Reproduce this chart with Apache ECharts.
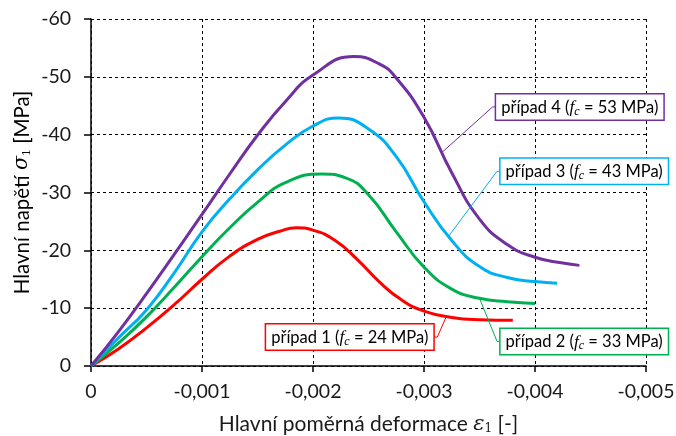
<!DOCTYPE html>
<html>
<head>
<meta charset="utf-8">
<script src="https://cdn.jsdelivr.net/npm/echarts@6/dist/echarts.min.js"></script>
<style>html,body{margin:0;padding:0;background:#fff}#c{width:676px;height:436px}</style>
</head>
<body>
<div id="c"></div>
<script>
// ---- data (strain ε1 [-], stress σ1 [MPa]) ----
const strain1 = [0, -0.00025, -0.0005, -0.00075, -0.001, -0.00125, -0.0015, -0.0017, -0.00185, -0.002, -0.0022, -0.0024, -0.0026, -0.0028, -0.003, -0.00325, -0.0035, -0.0038];
const stress1 = [0, -3.0, -6.6, -10.6, -15.0, -19.0, -21.9, -23.3, -23.9, -23.5, -21.7, -18.4, -14.5, -11.4, -9.5, -8.4, -8.0, -7.9];

const strain2 = [0, -0.00025, -0.0005, -0.00075, -0.001, -0.00125, -0.0015, -0.00175, -0.00208, -0.0023, -0.0025, -0.00275, -0.003, -0.00325, -0.0035, -0.00375, -0.004];
const stress2 = [0, -4.0, -8.5, -13.6, -18.9, -23.9, -28.3, -31.7, -33.2, -32.5, -29.6, -23.2, -17.1, -13.3, -11.7, -11.1, -10.8];

const strain3 = [0, -0.00025, -0.0005, -0.00075, -0.001, -0.00125, -0.0015, -0.00175, -0.002, -0.00223, -0.0025, -0.00275, -0.003, -0.00325, -0.0035, -0.00375, -0.004, -0.0042];
const stress3 = [0, -4.9, -9.7, -16.1, -23.2, -28.9, -33.9, -38.2, -41.5, -42.9, -41.0, -36.2, -28.4, -21.7, -17.2, -15.3, -14.6, -14.3];

const strain4 = [0, -0.00025, -0.0005, -0.00075, -0.001, -0.00125, -0.0015, -0.00175, -0.002, -0.00237, -0.0026, -0.00275, -0.003, -0.00325, -0.0035, -0.00375, -0.004, -0.00425, -0.0044];
const stress4 = [0, -6.0, -12.5, -19.3, -26.2, -33.2, -39.9, -45.7, -50.3, -53.5, -52.2, -49.8, -43.0, -33.4, -25.4, -21.0, -18.8, -17.8, -17.4];

const caseNames = ['případ 1', 'případ 2', 'případ 3', 'případ 4'];
const fcValues = [24, 33, 43, 53];
const colors = ['#FF0000', '#00B050', '#00B0F0', '#7030A0'];

// label leaders: point on curve, elbow, box anchor (data coordinates)
const leaderCurvePts = [[-0.0032, -8.5], [-0.0035, -11.7], [-0.00322, -22.4], [-0.00316, -36.9]];
const leaderElbowPts = [[-0.00312, -5.0], [-0.003658, -4.25], [-0.003658, -33.67], [-0.003618, -44.8]];
const boxAnchorPts   = [[-0.003084, -5.0], [-0.00369, -4.25], [-0.00369, -33.67], [-0.00365, -44.8]];
const boxAlign = ['right', 'left', 'left', 'left'];

const xTicks = { min: -0.005, max: 0, interval: 0.001 };
const yTicks = { min: -60, max: 0, interval: 10 };

const strains = [strain1, strain2, strain3, strain4];
const stresses = [stress1, stress2, stress3, stress4];

const FONT = 'Lato';
const TXT = '#1a1a1a';
const chart = echarts.init(document.getElementById('c'), null, { renderer: 'canvas' });

const gridLine = { show: true, lineStyle: { color: '#000', type: [3, 3], width: 1 } };
const titleRich = (fs) => ({
  e: { fontFamily: 'DejaVu Serif', fontStyle: 'italic', fontSize: fs, color: TXT },
  s: { fontFamily: 'DejaVu Serif', fontSize: Math.round(fs * 0.55), color: TXT, verticalAlign: 'bottom', padding: [9, 0, 0, 0] },
  t: { fontFamily: FONT, fontSize: fs, color: TXT }
});

chart.setOption({
  animation: false,
  backgroundColor: '#fff',
  grid: { left: 91, right: 30, top: 19, bottom: 70, containLabel: false, outerBoundsMode: 'none' },
  xAxis: {
    type: 'value', inverse: true,
    min: xTicks.min, max: xTicks.max, interval: xTicks.interval,
    name: '{t|Hlavní poměrná deformace }{e|ε}{s|1}{t| [-]}',
    nameLocation: 'middle', nameGap: 48,
    nameTextStyle: { fontFamily: FONT, fontSize: 21, color: TXT, rich: titleRich(21) },
    axisLine: { show: true, onZero: false, lineStyle: { color: '#000', width: 1.5 } },
    axisTick: { show: true, length: 6, lineStyle: { color: '#000', width: 1.5 } },
    axisLabel: {
      fontFamily: FONT, fontSize: 19.5, color: TXT, margin: 16,
      formatter: v => (Math.abs(v) < 1e-12 ? '0' : v.toFixed(3).replace('.', ','))
    },
    splitLine: gridLine
  },
  yAxis: {
    type: 'value', inverse: true,
    min: yTicks.min, max: yTicks.max, interval: yTicks.interval,
    axisLine: { show: true, onZero: false, lineStyle: { color: '#000', width: 1.5 } },
    axisTick: { show: true, length: 7, lineStyle: { color: '#000', width: 1.5 } },
    axisLabel: { fontFamily: FONT, fontSize: 19.5, color: TXT, margin: 20, formatter: v => String(v) },
    splitLine: gridLine
  },
  series: strains.map((s, i) => ({
    type: 'line',
    name: caseNames[i],
    data: s.map((x, k) => [x, stresses[i][k]]),
    smooth: 0.5,
    showSymbol: false,
    z: 3 + i,
    lineStyle: { color: colors[i], width: 3 },
    itemStyle: { color: colors[i] }
  }))
});

const toPx = p => chart.convertToPixel({ gridIndex: 0 }, p);
const rich = {
  n: { fontFamily: FONT, fontSize: 16.5, color: '#222' },
  f: { fontFamily: 'Liberation Serif', fontStyle: 'italic', fontSize: 17.5, color: '#222' },
  c: { fontFamily: 'Liberation Serif', fontStyle: 'italic', fontSize: 12, color: '#222', verticalAlign: 'bottom', padding: [8, 0, 0, 0] }
};
const graphics = [];
for (let i = 0; i < 4; i++) {
  const a = toPx(leaderCurvePts[i]);
  const b = toPx(leaderElbowPts[i]);
  const c = toPx(boxAnchorPts[i]);
  graphics.push({
    type: 'polyline', z: 20,
    shape: { points: [a, b, c] },
    style: { stroke: colors[i], lineWidth: 1, fill: null }
  });
  graphics.push({
    type: 'text', z: 21,
    x: c[0], y: c[1],
    style: {
      text: '{n|' + caseNames[i] + ' (}{f|f}{c|c}{n| = ' + fcValues[i] + ' MPa)}',
      rich: rich,
      align: boxAlign[i], verticalAlign: 'middle',
      backgroundColor: '#fff', borderColor: colors[i], borderWidth: 1.5,
      padding: [3, 5, 2, 5]
    }
  });
}
// y-axis title, centred on the plot's vertical middle
const topLeft = toPx([xTicks.max, yTicks.min]);
const botLeft = toPx([xTicks.max, yTicks.max]);
graphics.push({
  type: 'text', z: 21,
  x: 22, y: (topLeft[1] + botLeft[1]) / 2,
  rotation: Math.PI / 2,
  style: {
    text: '{t|Hlavní napětí }{e|σ}{s|1}{t| [MPa]}',
    rich: titleRich(20.5),
    align: 'center', verticalAlign: 'middle'
  }
});
chart.setOption({ graphic: graphics });
</script>
</body>
</html>
